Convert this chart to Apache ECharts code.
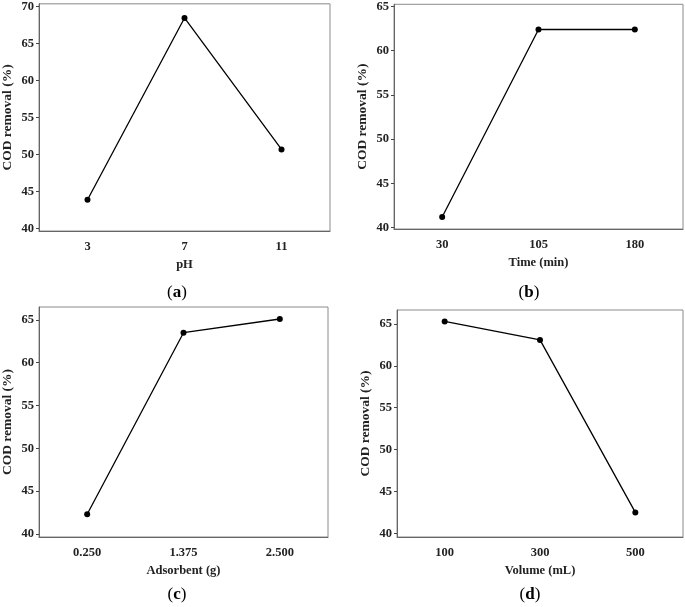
<!DOCTYPE html>
<html>
  <head>
    <meta charset="utf-8" />
    <script src="https://cdn.jsdelivr.net/npm/echarts@6.0.0/dist/echarts.min.js"></script>
    <style>
      body { margin: 0; background: #fff; }
    </style>
  </head>
  <body>
    <div id="main" style="width: 685px; height: 607px"></div>

    <script type="text/javascript">
      // main effects data
      var phLevels = ["3", "7", "11"];
      var phRemoval = [43.9, 68.45, 50.7];

      var timeLevels = ["30", "105", "180"];
      var timeRemoval = [41.2, 62.4, 62.4];

      var adsLevels = ["0.250", "1.375", "2.500"];
      var adsRemoval = [42.3, 63.5, 65.1];

      var volLevels = ["100", "300", "500"];
      var volRemoval = [65.3, 63.1, 42.5];

      var yTicksA = [40, 45, 50, 55, 60, 65, 70];
      var yTicksB = [40, 45, 50, 55, 60, 65];

      var xNames = ["pH", "Time (min)", "Adsorbent (g)", "Volume (mL)"];
      var panelTags = ["a", "b", "c", "d"];

      var font = "Liberation Serif";

      var myChart = echarts.init(document.getElementById("main"));

      var grids = [
        { left: 36, top: 3, width: 294, height: 228 },
        { left: 394, top: 4, width: 289, height: 225 },
        { left: 38, top: 307, width: 290, height: 230 },
        { left: 397, top: 310, width: 286, height: 227 }
      ];
      var yRanges = [[39.69, 70.36], [39.85, 65.25], [39.65, 66.5], [39.56, 66.67]];
      var cats = [phLevels, timeLevels, adsLevels, volLevels];
      var vals = [phRemoval, timeRemoval, adsRemoval, volRemoval];
      var yTicks = [yTicksA, yTicksB, yTicksB, yTicksB];
      var tagPos = [[172, 279], [524, 279], [172, 581], [525, 581]];

      var option = {
        animation: false,
        backgroundColor: "#fff",
        title: [],
        grid: [],
        xAxis: [],
        yAxis: [],
        series: []
      };

      for (var i = 0; i < 4; i++) {
        option.grid.push({
          left: grids[i].left,
          top: grids[i].top,
          width: grids[i].width,
          height: grids[i].height,
          show: true,
          borderColor: "#8a8a8a",
          borderWidth: 1
        });
        option.xAxis.push({
          type: "category",
          gridIndex: i,
          data: cats[i],
          boundaryGap: true,
          name: xNames[i],
          nameLocation: "middle",
          nameGap: 27,
          nameTextStyle: { fontFamily: font, fontWeight: "bold", fontSize: 12.5, color: "#222" },
          axisLine: { lineStyle: { color: "#666", width: 1 } },
          axisTick: { alignWithLabel: true, length: 3, lineStyle: { color: "#444" } },
          axisLabel: { fontFamily: font, fontWeight: "bold", fontSize: 12.5, color: "#222", margin: 9 },
          splitLine: { show: false }
        });
        option.yAxis.push({
          type: "value",
          gridIndex: i,
          min: yRanges[i][0],
          max: yRanges[i][1],
          name: "COD removal (%)",
          nameLocation: "middle",
          nameGap: 24,
          nameTextStyle: { fontFamily: font, fontWeight: "bold", fontSize: 13.5, color: "#222" },
          axisLine: { show: true, lineStyle: { color: "#666", width: 1 } },
          axisTick: { show: true, length: 3, customValues: yTicks[i], lineStyle: { color: "#444" } },
          axisLabel: { fontFamily: font, fontWeight: "bold", fontSize: 12.5, color: "#222", margin: 5, customValues: yTicks[i] },
          splitLine: { show: false }
        });
        option.series.push({
          type: "line",
          xAxisIndex: i,
          yAxisIndex: i,
          data: vals[i],
          symbol: "circle",
          symbolSize: 6,
          itemStyle: { color: "#000" },
          lineStyle: { color: "#000", width: 1.3 }
        });
        option.title.push({
          text: "({b|" + panelTags[i] + "})",
          left: tagPos[i][0],
          top: tagPos[i][1],
          textAlign: "center",
          textStyle: {
            fontFamily: font,
            fontSize: 17,
            fontWeight: "normal",
            color: "#000",
            rich: { b: { fontFamily: font, fontSize: 17, fontWeight: "bold", color: "#000" } }
          }
        });
      }

      myChart.setOption(option);
    </script>
  </body>
</html>
